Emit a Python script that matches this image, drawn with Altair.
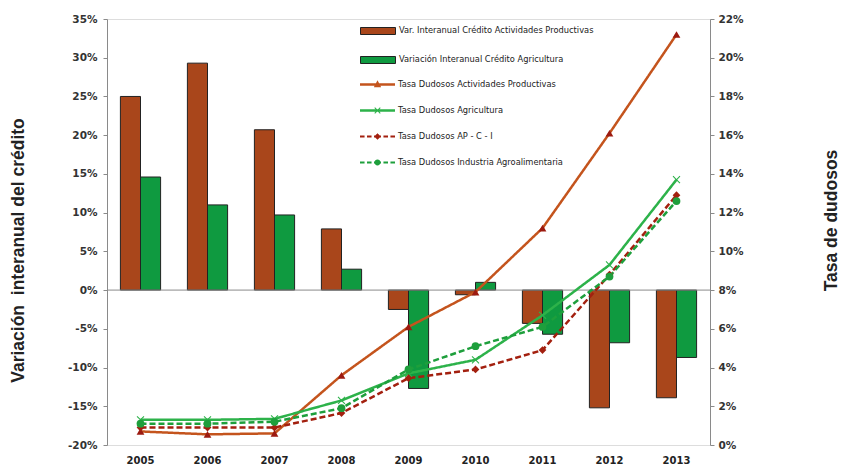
import altair as alt
import pandas as pd

# ---------------- data ----------------
years = ["2005", "2006", "2007", "2008", "2009", "2010", "2011", "2012", "2013"]

bar_names = [
    "Var. Interanual Crédito Actividades Productivas",
    "Variación Interanual Crédito Agricultura",
]
var_ap = [25.0, 29.3, 20.7, 7.9, -2.5, -0.6, -4.3, -15.2, -13.9]
var_agri = [14.6, 11.0, 9.7, 2.7, -12.7, 1.0, -5.7, -6.8, -8.7]

line_names = [
    "Tasa Dudosos Actividades Productivas",
    "Tasa Dudosos Agricultura",
    "Tasa Dudosos AP - C - I",
    "Tasa Dudosos Industria Agroalimentaria",
]
tasa_ap = [0.7, 0.55, 0.6, 3.6, 6.1, 7.9, 11.2, 16.1, 21.2]
tasa_agri = [1.3, 1.3, 1.35, 2.3, 3.7, 4.4, 6.7, 9.3, 13.7]
tasa_apci = [0.9, 0.9, 0.9, 1.65, 3.45, 3.9, 4.9, 8.8, 12.9]
tasa_ind = [1.1, 1.1, 1.2, 1.9, 3.9, 5.1, 6.1, 8.7, 12.6]

left_ticks = [-20, -15, -10, -5, 0, 5, 10, 15, 20, 25, 30, 35]
right_ticks = [0, 2, 4, 6, 8, 10, 12, 14, 16, 18, 20, 22]

left_title = "Variación\u00a0 interanual del crédito"
right_title = "Tasa de dudosos"

# ---------------- styles ----------------
bar_colors = ["#A9461B", "#0F9A40"]
line_colors = ["#C4541D", "#2DB24A", "#A3200F", "#1E9F3C"]
marker_colors = ["#9C1A10", "#2DB24A", "#A3200F", "#1E9F3C"]

XPATH = "M-1,-0.8L-0.8,-1L0,-0.2L0.8,-1L1,-0.8L0.2,0L1,0.8L0.8,1L0,0.2L-0.8,1L-1,0.8L-0.2,0Z"
marker_shapes = ["triangle-up", XPATH, "diamond", "circle"]

SOLID = "M-1,-0.07H1V0.07H-1Z"
DASHED = ("M-1,-0.06H-0.74V0.06H-1Z M-0.6,-0.06H-0.34V0.06H-0.6Z "
          "M-0.2,-0.06H0.2V0.06H-0.2Z M0.34,-0.06H0.6V0.06H0.34Z M0.74,-0.06H1V0.06H0.74Z")
legend_shapes = [
    SOLID + " M0,-0.24L0.21,0.15H-0.21Z",
    SOLID + " M-0.18,-0.14L-0.14,-0.18L0,-0.04L0.14,-0.18L0.18,-0.14L0.04,0L0.18,0.14L0.14,0.18L0,0.04L-0.14,0.18L-0.18,0.14L-0.04,0Z",
    DASHED + " M0,-0.19L0.19,0L0,0.19L-0.19,0Z",
    DASHED + " M-0.17,0A0.17,0.17 0 1,1 0.17,0A0.17,0.17 0 1,1 -0.17,0Z",
]
BAR_SYMBOL = "M-1,-0.2H1V0.2H-1Z"

FONT = "Liberation Sans"
TICKFONT = "DejaVu Sans"

# ---------------- tables ----------------
bars_df = pd.DataFrame({
    "year": years * 2,
    "serie": [bar_names[0]] * len(years) + [bar_names[1]] * len(years),
    "valor": var_ap + var_agri,
})
lines_df = pd.DataFrame({
    "year": years * 4,
    "serie": sum([[n] * len(years) for n in line_names], []),
    "tasa": tasa_ap + tasa_agri + tasa_apci + tasa_ind,
})

x_enc = alt.X(
    "year:N",
    scale=alt.Scale(domain=years, paddingInner=0.4, paddingOuter=0.2),
    axis=alt.Axis(title=None, labelAngle=0, domain=False, ticks=False, labelPadding=10,
                  labelFont=TICKFONT, labelFontSize=10, labelFontWeight="bold", labelColor="#222"),
)
left_scale = alt.Scale(domain=[-20, 35], nice=False, zero=False)
right_scale = alt.Scale(domain=[0, 22], nice=False, zero=False)

bars = alt.Chart(bars_df).mark_bar(stroke="#222", strokeWidth=1).encode(
    x=x_enc,
    xOffset=alt.XOffset("serie:N", scale=alt.Scale(domain=bar_names, paddingInner=0)),
    y=alt.Y("valor:Q", scale=left_scale,
            axis=alt.Axis(values=left_ticks, labelExpr="datum.value + '%'", grid=False,
                          domainColor="#8a8a8a", tickColor="#8a8a8a", tickSize=4,
                          labelFont=TICKFONT, labelFontSize=10.5, labelFontWeight="bold",
                          labelColor="#333", labelPadding=6,
                          title=left_title, titleFont=FONT,
                          titleFontSize=17.5, titleFontWeight="bold", titleColor="#222",
                          titleAngle=270, titleX=-89, titleY=231,
                          titleAlign="center", titleBaseline="middle")),
    color=alt.Color("serie:N", scale=alt.Scale(domain=bar_names, range=bar_colors),
                    legend=alt.Legend(title=None, orient="none", legendX=253, legendY=-6,
                                      symbolType=BAR_SYMBOL, symbolSize=1225,
                                      symbolStrokeColor="#222", symbolStrokeWidth=1,
                                      labelFont=TICKFONT, labelFontSize=8.3, labelColor="#222",
                                      labelLimit=320, labelOffset=3, rowPadding=5)),
)

zero_rule = alt.Chart(pd.DataFrame({"cero": [0]})).mark_rule(color="#8a8a8a", strokeWidth=1).encode(
    y=alt.Y("cero:Q", scale=left_scale, axis=None)
)

lines = alt.Chart(lines_df).mark_line(strokeWidth=2.5).encode(
    x=alt.X("year:N"),
    y=alt.Y("tasa:Q", scale=right_scale,
            axis=alt.Axis(orient="right", values=right_ticks, labelExpr="datum.value + '%'",
                          grid=False, domainColor="#8a8a8a", tickColor="#8a8a8a", tickSize=4,
                          labelFont=TICKFONT, labelFontSize=10.5, labelFontWeight="bold",
                          labelColor="#333", labelPadding=4,
                          title=right_title, titleFont=FONT, titleFontSize=17.5,
                          titleFontWeight="bold", titleColor="#222", titleAngle=270,
                          titleX=121, titleY=201, titleAlign="center", titleBaseline="middle")),
    color=alt.Color("serie:N", scale=alt.Scale(domain=line_names, range=line_colors), legend=None),
    strokeDash=alt.StrokeDash("serie:N",
                              scale=alt.Scale(domain=line_names, range=[[1, 0], [1, 0], [6, 3], [6, 3]]),
                              legend=None),
)

points = alt.Chart(lines_df).mark_point(filled=True, opacity=1, size=60).encode(
    x=alt.X("year:N"),
    y=alt.Y("tasa:Q", scale=right_scale, axis=None),
    color=alt.Color("serie:N", scale=alt.Scale(domain=line_names, range=marker_colors), legend=None),
    shape=alt.Shape("serie:N", scale=alt.Scale(domain=line_names, range=marker_shapes), legend=None),
)

leg_props = dict(title=None, orient="none", legendX=253, legendY=48, symbolSize=1225,
                 symbolStrokeWidth=0, labelFont=TICKFONT, labelFontSize=8.3, labelColor="#222",
                 labelLimit=320, labelOffset=3, rowPadding=5)

legend_layer = alt.Chart(lines_df).transform_filter("false").mark_point(filled=True, opacity=1).encode(
    color=alt.Color("serie:N", scale=alt.Scale(domain=line_names, range=line_colors),
                    legend=alt.Legend(**leg_props)),
    shape=alt.Shape("serie:N", scale=alt.Scale(domain=line_names, range=legend_shapes),
                    legend=alt.Legend(**leg_props)),
)

chart = alt.layer(bars, zero_rule, lines, points, legend_layer).resolve_scale(
    y="independent", color="independent", shape="independent", strokeDash="independent"
).properties(
    width=603, height=426,
    autosize=alt.AutoSizeParams(type="none"),
    padding={"left": 99, "top": 11, "right": 129, "bottom": 20},
).configure_view(stroke=None).configure(background="white")

chart.save("out.html", embed_options={"renderer": "svg", "actions": False})
